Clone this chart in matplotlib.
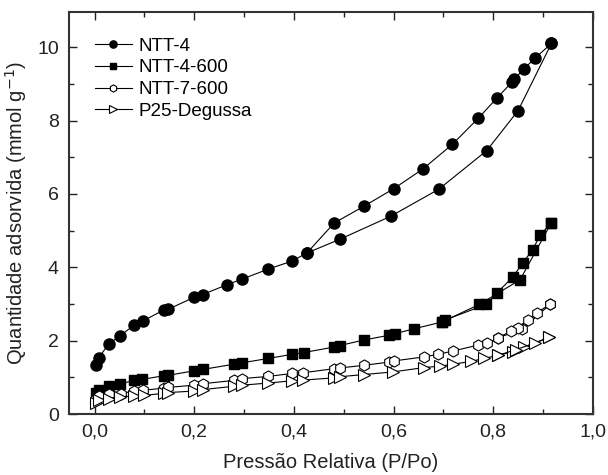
import matplotlib
matplotlib.use("Agg")
import matplotlib.pyplot as plt
from matplotlib.ticker import MultipleLocator, FuncFormatter

plt.rcParams["font.family"] = ["Liberation Sans", "DejaVu Sans"]

# NTT-4 (adsorcao / dessorcao)
ntt4_ads_x = [0.002, 0.008, 0.028, 0.050, 0.079, 0.097, 0.139, 0.148, 0.199, 0.217, 0.266,
              0.296, 0.348, 0.396, 0.426, 0.493, 0.594, 0.691, 0.787, 0.850, 0.917]
ntt4_ads_y = [1.33, 1.53, 1.91, 2.13, 2.42, 2.54, 2.84, 2.86, 3.18, 3.26, 3.53,
              3.68, 3.95, 4.17, 4.39, 4.77, 5.39, 6.13, 7.18, 8.27, 10.10]
ntt4_des_x = [0.917, 0.884, 0.862, 0.842, 0.838, 0.808, 0.770, 0.718, 0.659, 0.600, 0.540, 0.481, 0.426]
ntt4_des_y = [10.10, 9.70, 9.41, 9.12, 9.05, 8.62, 8.06, 7.35, 6.68, 6.14, 5.66, 5.21, 4.39]

# NTT-4-600
ntt4600_ads_x = [0.002, 0.009, 0.028, 0.050, 0.079, 0.096, 0.140, 0.148, 0.199, 0.217, 0.279, 0.296,
                 0.349, 0.396, 0.420, 0.481, 0.492, 0.540, 0.591, 0.602, 0.642, 0.697, 0.772, 0.854, 0.917]
ntt4600_ads_y = [0.58, 0.67, 0.77, 0.82, 0.92, 0.95, 1.05, 1.06, 1.18, 1.22, 1.36, 1.40,
                 1.52, 1.63, 1.68, 1.83, 1.87, 2.02, 2.15, 2.19, 2.33, 2.51, 2.99, 3.66, 5.22]
ntt4600_des_x = [0.917, 0.895, 0.879, 0.860, 0.839, 0.808, 0.786, 0.704, 0.697]
ntt4600_des_y = [5.22, 4.89, 4.48, 4.13, 3.73, 3.31, 2.99, 2.57, 2.51]

# NTT-7-600
ntt7600_ads_x = [0.002, 0.008, 0.028, 0.052, 0.079, 0.097, 0.139, 0.148, 0.199, 0.217, 0.279, 0.296,
                 0.349, 0.396, 0.419, 0.481, 0.492, 0.540, 0.591, 0.600, 0.661, 0.689, 0.719, 0.769,
                 0.788, 0.809, 0.858, 0.914]
ntt7600_ads_y = [0.42, 0.50, 0.54, 0.56, 0.63, 0.65, 0.71, 0.73, 0.79, 0.83, 0.92, 0.97,
                 1.03, 1.11, 1.13, 1.24, 1.26, 1.33, 1.42, 1.45, 1.56, 1.63, 1.72, 1.88,
                 1.93, 2.08, 2.31, 2.99]
ntt7600_des_x = [0.914, 0.888, 0.869, 0.849, 0.836, 0.809]
ntt7600_des_y = [2.99, 2.77, 2.56, 2.36, 2.26, 2.08]

# P25-Degussa
p25_ads_x = [0.002, 0.008, 0.028, 0.050, 0.079, 0.099, 0.139, 0.148, 0.199, 0.217, 0.279, 0.296,
             0.349, 0.396, 0.419, 0.481, 0.492, 0.540, 0.598, 0.661, 0.694, 0.719, 0.756, 0.782,
             0.809, 0.839, 0.862, 0.912]
p25_ads_y = [0.30, 0.40, 0.42, 0.47, 0.50, 0.51, 0.57, 0.59, 0.63, 0.67, 0.76, 0.79,
             0.85, 0.91, 0.93, 0.99, 1.02, 1.08, 1.15, 1.27, 1.31, 1.36, 1.44, 1.52,
             1.60, 1.70, 1.83, 2.09]
p25_des_x = [0.912, 0.884, 0.846, 0.809]
p25_des_y = [2.09, 1.94, 1.76, 1.60]

fig = plt.figure(figsize=(6.08, 4.75), dpi=100)
ax = fig.add_axes([0.113, 0.128, 0.862, 0.847])

lw = 0.8
ax.plot(ntt4_ads_x, ntt4_ads_y, "-o", color="black", mfc="black", ms=8, lw=lw, label="NTT-4")
ax.plot(ntt4_des_x, ntt4_des_y, "-o", color="black", mfc="black", ms=8, lw=lw)
ax.plot(ntt4600_ads_x, ntt4600_ads_y, "-s", color="black", mfc="black", ms=7, lw=lw, label="NTT-4-600")
ax.plot(ntt4600_des_x, ntt4600_des_y, "-s", color="black", mfc="black", ms=7, lw=lw)
ax.plot(ntt7600_ads_x, ntt7600_ads_y, "-h", color="black", mfc="white", ms=8, mew=0.8, lw=lw, label="NTT-7-600")
ax.plot(ntt7600_des_x, ntt7600_des_y, "-h", color="black", mfc="white", ms=8, mew=0.8, lw=lw)
ax.plot(p25_ads_x, p25_ads_y, "->", color="black", mfc="white", ms=8, mew=0.8, lw=lw, label="P25-Degussa")
ax.plot(p25_des_x, p25_des_y, "->", color="black", mfc="white", ms=8, mew=0.8, lw=lw)

ax.set_xlim(-0.052, 1.0)
ax.set_ylim(0, 10.96)

ax.xaxis.set_major_locator(MultipleLocator(0.2))
ax.xaxis.set_minor_locator(MultipleLocator(0.1))
ax.yaxis.set_major_locator(MultipleLocator(2))
ax.yaxis.set_minor_locator(MultipleLocator(1))
ax.xaxis.set_major_formatter(FuncFormatter(lambda v, p: f"{v:.1f}".replace(".", ",")))

ax.tick_params(which="both", direction="in", top=True, right=True, labeltop=False, labelright=False,
               labelsize=14, colors="#222222", width=1.0)
ax.tick_params(which="major", length=6, pad=7)
ax.tick_params(which="minor", length=3.5)
for sp in ax.spines.values():
    sp.set_linewidth(1.5)
    sp.set_color("#333333")

ax.set_xlabel("Pressão Relativa (P/Po)", fontsize=14.5, color="#222222", labelpad=9)
ax.set_ylabel("Quantidade adsorvida (mmol g$^{-1}$)", fontsize=14.5, color="#222222", labelpad=6)

ax.legend(loc="upper left", bbox_to_anchor=(0.035, 0.955), frameon=False, fontsize=13.5,
          markerscale=0.65, handlelength=2.0, handletextpad=0.35, labelspacing=0.25,
          borderaxespad=0.0)

fig.savefig("out.png", dpi=100)
